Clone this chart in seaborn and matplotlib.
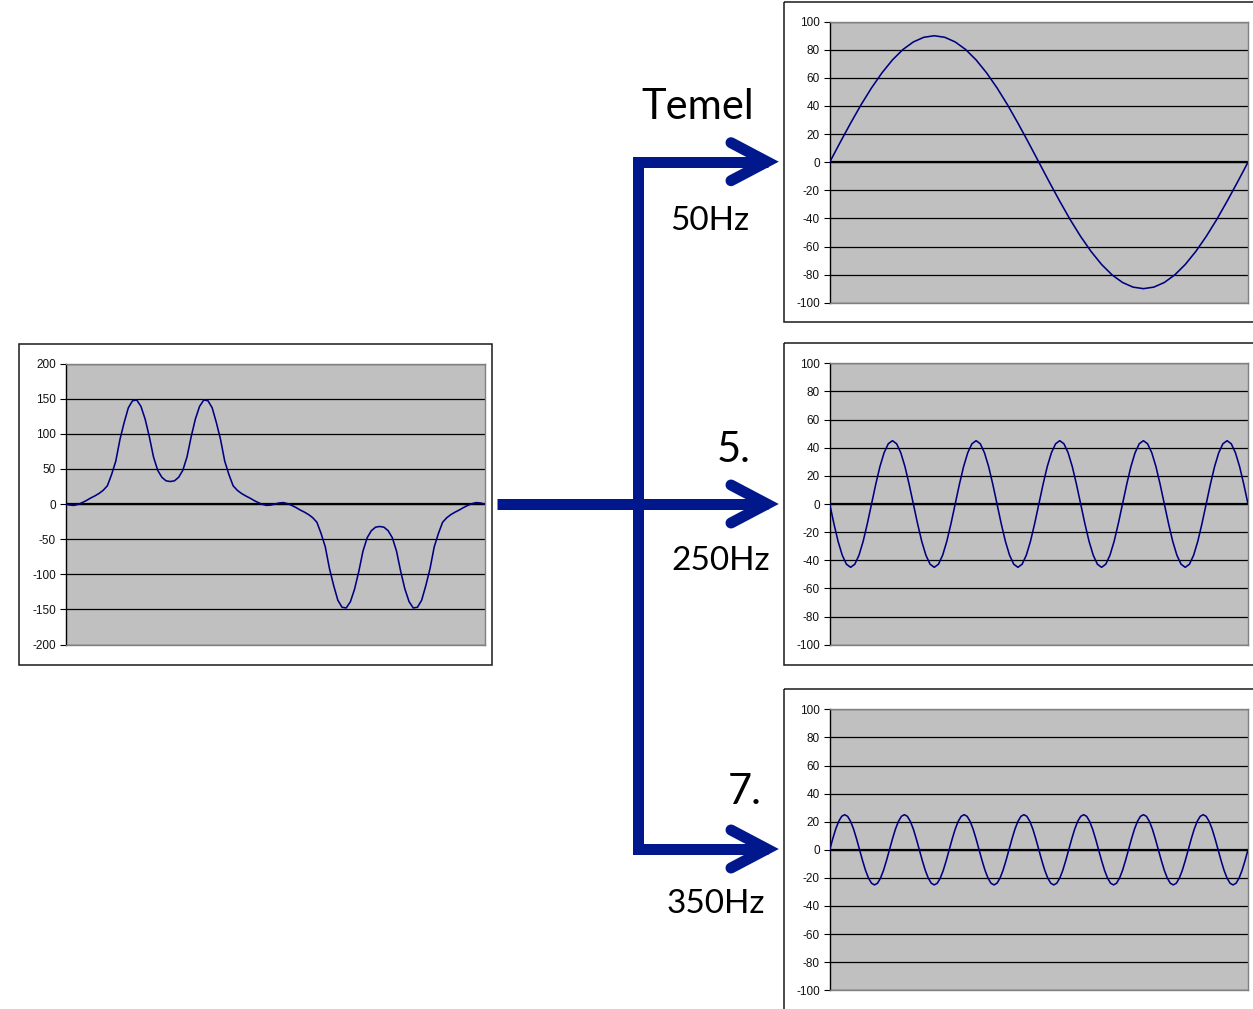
import numpy as np
import pandas as pd
import matplotlib
matplotlib.use("Agg")
import matplotlib.pyplot as plt
import seaborn as sns
from matplotlib.patches import Rectangle

# --- data ---
# composite wave (left), one sample every 1/100 of the window
composite = [
    0, -1.5, -2, -0.5, 2, 5, 8.5, 11.5, 15, 19.5,
    26, 42, 61, 92, 116, 137, 147, 148, 139, 121,
    96, 67, 48, 38, 33, 32, 33, 38, 48, 67,
    96, 121, 139, 148, 147, 137, 116, 92, 61, 42,
    26, 19.5, 15, 11.5, 8.5, 5, 2, -0.5, -2, -1.5,
    0, 1.5, 2, 0.5, -2, -5, -8.5, -11.5, -15, -19.5,
    -26, -42, -61, -92, -116, -137, -147, -148, -139, -121,
    -96, -67, -48, -38, -33, -32, -33, -38, -48, -67,
    -96, -121, -139, -148, -147, -137, -116, -92, -61, -42,
    -26, -19.5, -15, -11.5, -8.5, -5, -2, 0.5, 2, 1.5,
    0,
]

# fundamental 50Hz
fundamental = [
    0, 14.1, 27.8, 40.9, 52.9, 63.6, 72.8, 80.2, 85.6, 88.9,
    90, 88.9, 85.6, 80.2, 72.8, 63.6, 52.9, 40.9, 27.8, 14.1,
    0, -14.1, -27.8, -40.9, -52.9, -63.6, -72.8, -80.2, -85.6, -88.9,
    -90, -88.9, -85.6, -80.2, -72.8, -63.6, -52.9, -40.9, -27.8, -14.1,
    0,
]

# 5th harmonic 250Hz
harmonic5 = [
    0, -13.9, -26.5, -36.4, -42.8, -45, -42.8, -36.4, -26.5, -13.9,
    0, 13.9, 26.5, 36.4, 42.8, 45, 42.8, 36.4, 26.5, 13.9,
    0, -13.9, -26.5, -36.4, -42.8, -45, -42.8, -36.4, -26.5, -13.9,
    0, 13.9, 26.5, 36.4, 42.8, 45, 42.8, 36.4, 26.5, 13.9,
    0, -13.9, -26.5, -36.4, -42.8, -45, -42.8, -36.4, -26.5, -13.9,
    0, 13.9, 26.5, 36.4, 42.8, 45, 42.8, 36.4, 26.5, 13.9,
    0, -13.9, -26.5, -36.4, -42.8, -45, -42.8, -36.4, -26.5, -13.9,
    0, 13.9, 26.5, 36.4, 42.8, 45, 42.8, 36.4, 26.5, 13.9,
    0, -13.9, -26.5, -36.4, -42.8, -45, -42.8, -36.4, -26.5, -13.9,
    0, 13.9, 26.5, 36.4, 42.8, 45, 42.8, 36.4, 26.5, 13.9,
    0,
]

# 7th harmonic 350Hz
harmonic7 = [
    0, 7.7, 14.7, 20.2, 23.8, 25, 23.8, 20.2, 14.7, 7.7,
    0, -7.7, -14.7, -20.2, -23.8, -25, -23.8, -20.2, -14.7, -7.7,
    0, 7.7, 14.7, 20.2, 23.8, 25, 23.8, 20.2, 14.7, 7.7,
    0, -7.7, -14.7, -20.2, -23.8, -25, -23.8, -20.2, -14.7, -7.7,
    0, 7.7, 14.7, 20.2, 23.8, 25, 23.8, 20.2, 14.7, 7.7,
    0, -7.7, -14.7, -20.2, -23.8, -25, -23.8, -20.2, -14.7, -7.7,
    0, 7.7, 14.7, 20.2, 23.8, 25, 23.8, 20.2, 14.7, 7.7,
    0, -7.7, -14.7, -20.2, -23.8, -25, -23.8, -20.2, -14.7, -7.7,
    0, 7.7, 14.7, 20.2, 23.8, 25, 23.8, 20.2, 14.7, 7.7,
    0, -7.7, -14.7, -20.2, -23.8, -25, -23.8, -20.2, -14.7, -7.7,
    0, 7.7, 14.7, 20.2, 23.8, 25, 23.8, 20.2, 14.7, 7.7,
    0, -7.7, -14.7, -20.2, -23.8, -25, -23.8, -20.2, -14.7, -7.7,
    0, 7.7, 14.7, 20.2, 23.8, 25, 23.8, 20.2, 14.7, 7.7,
    0, -7.7, -14.7, -20.2, -23.8, -25, -23.8, -20.2, -14.7, -7.7,
    0,
]

composite_ticks = [-200, -150, -100, -50, 0, 50, 100, 150, 200]
harmonic_ticks = [-100, -80, -60, -40, -20, 0, 20, 40, 60, 80, 100]

order_labels = ["Temel", "5.", "7."]
freq_labels = ["50Hz", "250Hz", "350Hz"]

# --- style ---
plt.rcParams["font.family"] = ["Liberation Sans", "DejaVu Sans"]
plt.rcParams["axes.unicode_minus"] = False
BIG_FONT = ["Lato", "DejaVu Sans"]
WAVE = "#000080"
ARROW = "#00188c"
PANEL = "#c0c0c0"

W, H = 1253, 1009
fig = plt.figure(figsize=(W / 100, H / 100), dpi=100)


def px_axes(left, top, right, bottom):
    return fig.add_axes([left / W, 1 - bottom / H, (right - left) / W, (bottom - top) / H])


def wave_panel(ax, values, ticks):
    df = pd.DataFrame({"i": np.arange(len(values)), "v": values})
    sns.lineplot(data=df, x="i", y="v", ax=ax, color=WAVE, linewidth=1.15, zorder=3)
    ax.set_xlim(0, len(values) - 1)
    ax.set_ylim(ticks[0], ticks[-1])
    ax.set_yticks(ticks)
    ax.set_xticks([])
    ax.set_xlabel("")
    ax.set_ylabel("")
    ax.set_facecolor(PANEL)
    ax.yaxis.grid(True, color="black", linewidth=0.9)
    ax.axhline(0, color="black", linewidth=1.6, zorder=2)
    for side in ["top", "right", "bottom"]:
        ax.spines[side].set_color("#808080")
        ax.spines[side].set_linewidth(1.0)
    ax.spines["left"].set_color("black")
    ax.spines["left"].set_linewidth(1.0)
    ax.tick_params(axis="y", length=4, width=0.8, pad=3, labelsize=8.5, labelcolor="#111111")


wave_panel(px_axes(65.5, 363.5, 484.5, 644.5), composite, composite_ticks)
wave_panel(px_axes(829.7, 21.7, 1248, 302.7), fundamental, harmonic_ticks)
wave_panel(px_axes(829.7, 363.3, 1248, 644.7), harmonic5, harmonic_ticks)
wave_panel(px_axes(829.7, 709.3, 1248, 990.3), harmonic7, harmonic_ticks)

# overlay for frames, arrows and labels (pixel coordinates)
ov = fig.add_axes([0, 0, 1, 1])
ov.set_xlim(0, W)
ov.set_ylim(H, 0)
ov.axis("off")
ov.patch.set_alpha(0)

for x0, y0, x1, y1 in [(19, 343.7, 492.3, 664.7), (783.7, 1.7, 1290, 322.3),
                       (783.5, 342.7, 1290, 665), (783.5, 689.3, 1290, 1060)]:
    ov.add_patch(Rectangle((x0, y0), x1 - x0, y1 - y0, fill=False,
                           edgecolor="#1a1a1a", linewidth=1.1, clip_on=False))

lw = 11 * 0.72
branch_y = [161.7, 504, 849]
ov.plot([497, 768], [504, 504], color=ARROW, linewidth=lw, solid_capstyle="butt")
ov.plot([768, 638.3, 638.3, 768], [branch_y[0], branch_y[0], branch_y[2], branch_y[2]],
        color=ARROW, linewidth=lw, solid_capstyle="butt", solid_joinstyle="miter")
for yc in branch_y:
    ov.plot([731, 767, 731], [yc - 19, yc, yc + 19], color=ARROW, linewidth=lw,
            solid_capstyle="round", solid_joinstyle="miter")

order_pos = [(641, 119.3), (716.5, 461.7), (728, 804.3)]
freq_pos = [(670, 230), (671.5, 570), (666.5, 913.3)]
for lab, (x, y) in zip(order_labels, order_pos):
    ov.text(x, y, lab, fontsize=30, family=BIG_FONT, ha="left", va="baseline", color="black")
for lab, (x, y) in zip(freq_labels, freq_pos):
    ov.text(x, y, lab, fontsize=24, family=BIG_FONT, ha="left", va="baseline", color="black")

fig.savefig("out.png", dpi=100)
